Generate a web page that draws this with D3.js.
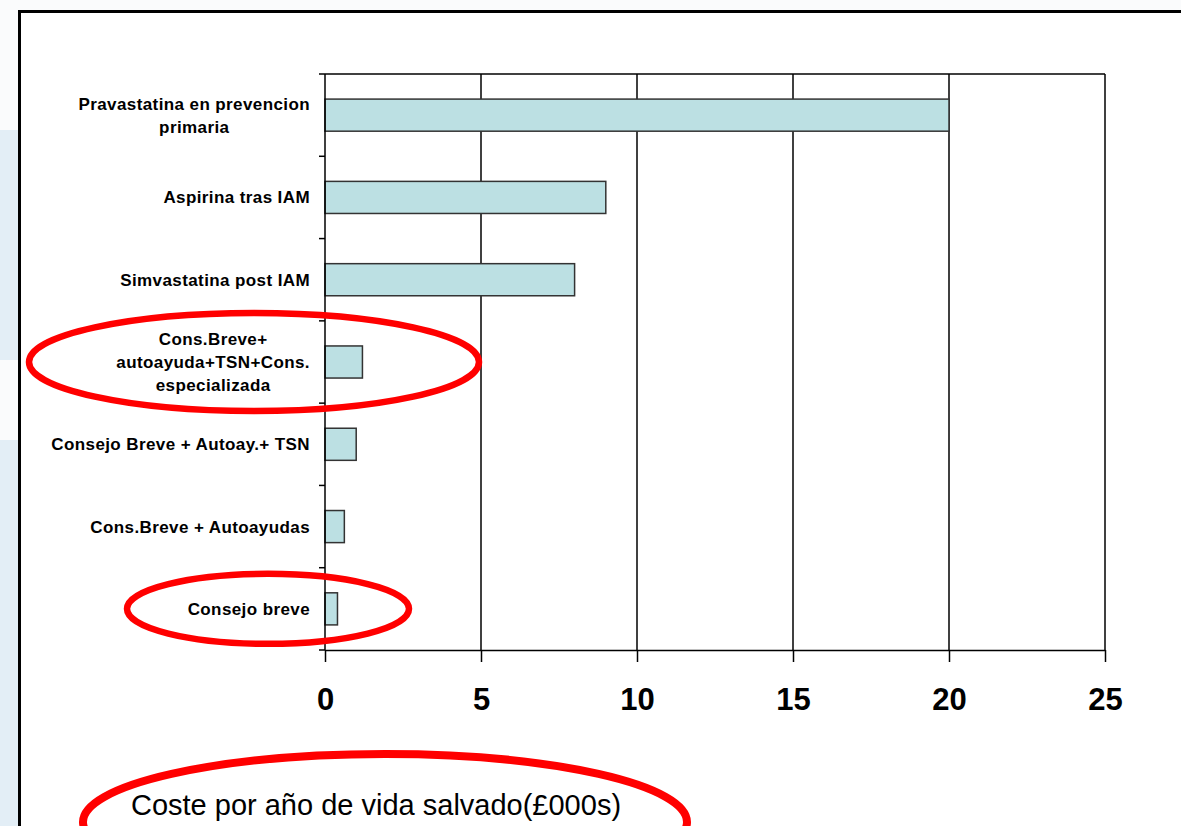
<!DOCTYPE html>
<html>
<head>
<meta charset="utf-8">
<script src="https://cdn.jsdelivr.net/npm/d3@7"></script>
<style>
  body { margin: 0; background: #fafbfc; }
  svg { display: block; font-family: Arial, "Liberation Sans", sans-serif; }
</style>
</head>
<body>
<script>
// chart values, top to bottom
const categories = [
    'Pravastatina en prevencion|primaria',
    'Aspirina tras IAM',
    'Simvastatina post IAM',
    'Cons.Breve+|autoayuda+TSN+Cons.|especializada',
    'Consejo Breve + Autoay.+ TSN',
    'Cons.Breve + Autoayudas',
    'Consejo breve'
];
const costs = [20, 9, 8, 1.2, 1.0, 0.62, 0.4];
const xTicks = [0, 5, 10, 15, 20, 25];
const axisTitle = 'Coste por año de vida salvado(£000s)';
const highlighted = ['Cons.Breve+|autoayuda+TSN+Cons.|especializada', 'Consejo breve'];

const svgWidth = 1181;
const svgHeight = 826;
const margin = { top: 74, right: 76, bottom: 176, left: 325 };

const svg = d3.select('body')
    .append('svg')
    .attr('width', svgWidth)
    .attr('height', svgHeight);

// faint slide background on the left edge
svg.append('rect').attr('x', 0).attr('y', 130).attr('width', 20).attr('height', 230).attr('fill', '#e3eef6');
svg.append('rect').attr('x', 0).attr('y', 440).attr('width', 20).attr('height', 386).attr('fill', '#e3eef6');

// framed white panel
svg.append('rect')
    .attr('x', 19.5)
    .attr('y', 11.5)
    .attr('width', svgWidth + 10)
    .attr('height', svgHeight + 10)
    .attr('fill', '#fff')
    .attr('stroke', '#000')
    .attr('stroke-width', 3);

const xScale = d3.scaleLinear()
    .domain([0, 25])
    .range([margin.left, svgWidth - margin.right]);

const yScale = d3.scaleBand()
    .domain(categories)
    .range([margin.top, svgHeight - margin.bottom])
    .paddingInner(0.61)
    .paddingOuter(0.305);

const plotTop = margin.top;
const plotBottom = svgHeight - margin.bottom;

// vertical gridlines
svg.append('g')
    .selectAll('line')
    .data(xTicks.slice(1))
    .enter()
    .append('line')
    .attr('x1', d => xScale(d))
    .attr('x2', d => xScale(d))
    .attr('y1', plotTop)
    .attr('y2', plotBottom)
    .attr('stroke', '#000')
    .attr('stroke-width', 1.5);

// top frame line
svg.append('line')
    .attr('x1', xScale(0)).attr('x2', xScale(25))
    .attr('y1', plotTop).attr('y2', plotTop)
    .attr('stroke', '#000').attr('stroke-width', 1.5);

// bars
svg.selectAll('.bar')
    .data(categories)
    .enter()
    .append('rect')
    .attr('class', 'bar')
    .attr('x', xScale(0))
    .attr('y', d => yScale(d))
    .attr('width', (d, i) => xScale(costs[i]) - xScale(0))
    .attr('height', yScale.bandwidth())
    .attr('fill', '#bce0e3')
    .attr('stroke', '#333')
    .attr('stroke-width', 1.5);

// X-axis
const xAxis = svg.append('g')
    .attr('transform', `translate(0,${plotBottom})`)
    .call(d3.axisBottom(xScale).tickValues(xTicks).tickSize(12).tickSizeOuter(0).tickPadding(26));
xAxis.select('.domain').attr('stroke', '#000').attr('stroke-width', 1.5);
xAxis.selectAll('.tick line').attr('stroke', '#000').attr('stroke-width', 1.5);
xAxis.selectAll('.tick text')
    .attr('fill', '#000')
    .style('font-size', '31px')
    .style('font-weight', 'bold');

// Y-axis: ticks sit on the category boundaries
const boundaries = d3.range(categories.length + 1).map(i => plotTop + i * (plotBottom - plotTop) / categories.length);
svg.append('line')
    .attr('x1', xScale(0)).attr('x2', xScale(0))
    .attr('y1', plotTop).attr('y2', plotBottom)
    .attr('stroke', '#000').attr('stroke-width', 1.5);
svg.append('g')
    .selectAll('line')
    .data(boundaries)
    .enter()
    .append('line')
    .attr('x1', xScale(0) - 6)
    .attr('x2', xScale(0))
    .attr('y1', d => d)
    .attr('y2', d => d)
    .attr('stroke', '#000')
    .attr('stroke-width', 1.5);

// category labels, multi-line ones centred on their widest line
const labelRight = xScale(0) - 15;
const lineHeight = 23;
categories.forEach(cat => {
    const lines = cat.split('|');
    const cy = yScale(cat) + yScale.bandwidth() / 2;
    const t = svg.append('text')
        .attr('fill', '#000')
        .style('font-size', '17px')
        .style('font-weight', 'bold')
        .style('letter-spacing', '0.4px');
    lines.forEach((ln, j) => {
        t.append('tspan')
            .attr('y', cy + (j - (lines.length - 1) / 2) * lineHeight + 6)
            .text(ln);
    });
    const widest = d3.max(t.selectAll('tspan').nodes(), n => n.getComputedTextLength());
    t.selectAll('tspan').attr('x', labelRight - widest / 2);
    t.attr('text-anchor', 'middle');
});

// axis title
svg.append('text')
    .attr('x', 376)
    .attr('y', 815)
    .attr('text-anchor', 'middle')
    .attr('fill', '#000')
    .style('font-size', '29px')
    .text(axisTitle);

// red highlight ellipses
const rings = [
    { cx: 254, cy: yScale(highlighted[0]) + yScale.bandwidth() / 2, rx: 225, ry: 49, w: 6.5 },
    { cx: 268, cy: yScale(highlighted[1]) + yScale.bandwidth() / 2, rx: 141, ry: 35, w: 6.5 },
    { cx: 385, cy: 822, rx: 302, ry: 68, w: 8 }
];
svg.selectAll('.ring')
    .data(rings)
    .enter()
    .append('ellipse')
    .attr('cx', d => d.cx)
    .attr('cy', d => d.cy)
    .attr('rx', d => d.rx)
    .attr('ry', d => d.ry)
    .attr('fill', 'none')
    .attr('stroke', '#ff0000')
    .attr('stroke-width', d => d.w);
</script>
</body>
</html>
